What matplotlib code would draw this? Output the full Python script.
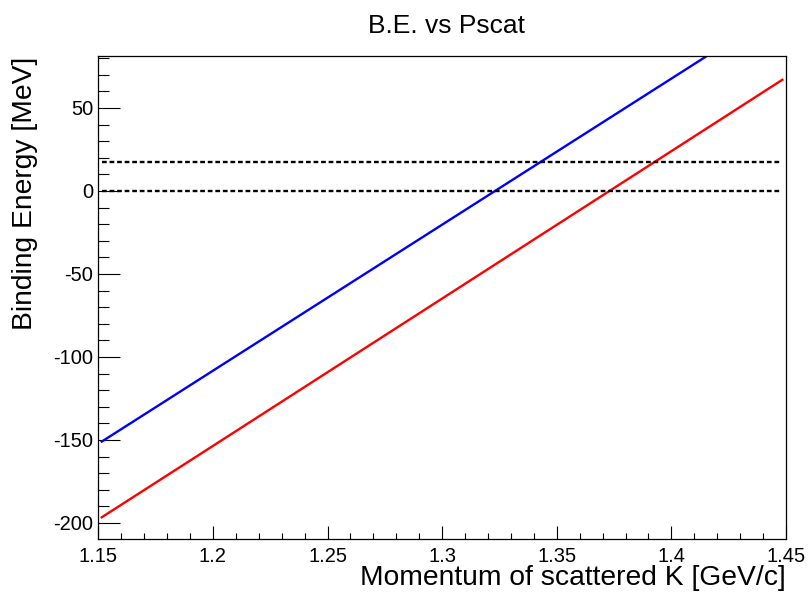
import numpy as np
import matplotlib.pyplot as plt

plt.rcParams['font.family'] = ['Liberation Sans', 'DejaVu Sans']

# Binding energy vs momentum of scattered K
p_blue = [1.1515, 1.20, 1.25, 1.30, 1.35, 1.40, 1.4484]
be_blue = [-151.0, -108.3, -64.3, -20.3, 23.7, 67.7, 110.3]
p_red = [1.1515, 1.20, 1.25, 1.30, 1.35, 1.40, 1.4484]
be_red = [-196.6, -153.6, -109.2, -64.8, -20.4, 24.0, 67.0]
# horizontal reference levels
ref_levels = [0.0, 17.5]
ref_range = [1.1515, 1.4484]

fig = plt.figure(figsize=(8.09, 5.99), dpi=100)
ax = fig.add_axes([98.3/809, 1-538.7/599, (786-98.3)/809, (538.7-55.7)/599])

ax.plot(p_blue, be_blue, color=(0, 0, 1), lw=1.7)
ax.plot(p_red, be_red, color=(1, 0, 0), lw=1.7)
for lev in ref_levels:
    ax.plot(ref_range, [lev, lev], color='black', lw=1.7, dashes=(2.0, 1.2))

ax.set_xlim(1.15, 1.45)
ax.set_ylim(-209.5, 81.5)

ax.set_xticks(np.arange(1.15, 1.4501, 0.05))
ax.set_xticklabels(['1.15', '1.2', '1.25', '1.3', '1.35', '1.4', '1.45'])
ax.set_xticks(np.arange(1.15, 1.4501, 0.01), minor=True)
ax.set_yticks([-200, -150, -100, -50, 0, 50])
ax.set_yticklabels(['-200', '-150', '-100', '-50', '0', '50'])
ax.set_yticks(np.arange(-200, 81, 10), minor=True)

ax.tick_params(axis='both', which='both', direction='in', labelsize=14.5,
               color='black', width=0.8)
ax.tick_params(axis='x', which='major', length=9.7, pad=6.0)
ax.tick_params(axis='x', which='minor', length=4.3)
ax.tick_params(axis='y', which='major', length=15.8, pad=3.6)
ax.tick_params(axis='y', which='minor', length=7.9)
for s in ax.spines.values():
    s.set_linewidth(0.9)

fig.text(446/809, 1-33/599, 'B.E. vs Pscat', ha='center', va='baseline', fontsize=19)
fig.text(786/809, 1-585/599, 'Momentum of scattered K [GeV/c]', ha='right',
         va='baseline', fontsize=20.3)
fig.text(25/809, 1-57/599, 'Binding Energy [MeV]', rotation=90, ha='center',
         va='top', fontsize=20.3)

fig.savefig('out.png', dpi=100)
